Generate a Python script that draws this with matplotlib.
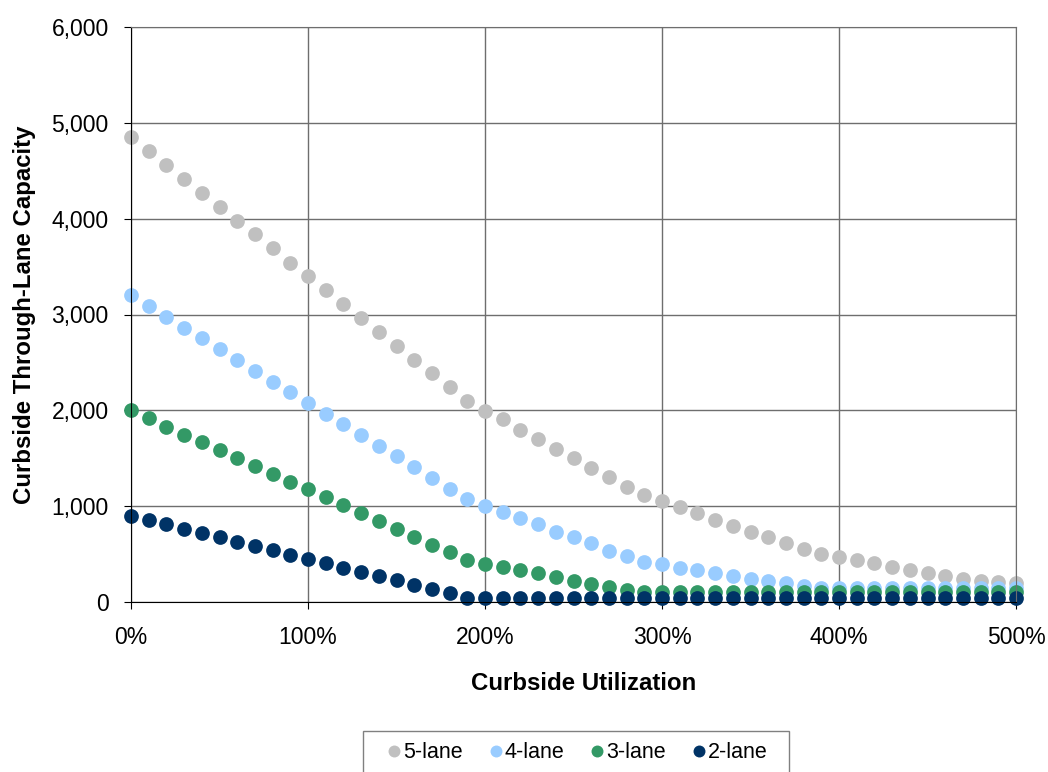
import numpy as np
import matplotlib.pyplot as plt
from matplotlib.patches import Rectangle
from matplotlib.ticker import FuncFormatter, MultipleLocator

plt.rcParams['font.family'] = ['Liberation Sans', 'DejaVu Sans']

# curbside utilization in %
utilization = list(range(0, 501, 10))

lane5 = [4850, 4705, 4560, 4410, 4270, 4120, 3980, 3835, 3690, 3540,
         3400, 3255, 3110, 2965, 2820, 2675, 2530, 2385, 2240, 2095,
         1995, 1905, 1800, 1700, 1600, 1500, 1400, 1300, 1205, 1120,
         1055, 990, 925, 860, 795, 735, 675, 615, 550, 500,
         465, 435, 405, 370, 335, 305, 275, 245, 220, 205,
         200]
lane4 = [3200, 3085, 2970, 2860, 2750, 2635, 2525, 2415, 2300, 2190,
         2075, 1965, 1855, 1745, 1630, 1520, 1405, 1290, 1180, 1075,
         1005, 940, 875, 810, 735, 675, 615, 535, 475, 420,
         395, 360, 330, 300, 270, 245, 220, 195, 170, 150,
         145, 145, 145, 145, 145, 145, 145, 145, 145, 145,
         145]
lane3 = [2000, 1915, 1830, 1745, 1665, 1585, 1500, 1420, 1340, 1255,
         1175, 1095, 1010, 930, 850, 765, 680, 600, 520, 440,
         400, 365, 330, 300, 260, 220, 190, 155, 125, 105,
         100, 100, 100, 100, 100, 100, 100, 100, 100, 100,
         100, 100, 100, 100, 100, 100, 100, 100, 100, 100,
         100]
lane2 = [900, 855, 810, 765, 720, 675, 630, 585, 540, 495,
         450, 405, 360, 315, 270, 225, 180, 135, 90, 45,
         45, 45, 45, 45, 45, 45, 45, 45, 45, 45,
         45, 45, 45, 45, 45, 45, 45, 45, 45, 45,
         45, 45, 45, 45, 45, 45, 45, 45, 45, 45,
         45]

series = [('5-lane', lane5, '#C0C0C0'),
          ('4-lane', lane4, '#99CCFF'),
          ('3-lane', lane3, '#339966'),
          ('2-lane', lane2, '#003366')]

fig = plt.figure(figsize=(10.48, 7.72), dpi=100)
ax = fig.add_axes([131/1048, 1-602/772, 885/1048, 575/772])

for name, vals, col in series:
    ax.plot(utilization, vals, linestyle='none', marker='o', markersize=10.6,
            markeredgewidth=0, color=col, label=name, clip_on=False)

ax.set_xlim(0, 500)
ax.set_ylim(0, 6000)
ax.xaxis.set_major_locator(MultipleLocator(100))
ax.yaxis.set_major_locator(MultipleLocator(1000))
ax.xaxis.set_major_formatter(FuncFormatter(lambda v, p: f'{v:.0f}%'))
ax.yaxis.set_major_formatter(FuncFormatter(lambda v, p: f'{v:,.0f}'))
ax.grid(True, color='#6e6e6e', linewidth=1)
ax.set_axisbelow(True)
for s in ['top', 'right']:
    ax.spines[s].set_color('#6e6e6e')
for s in ['left', 'bottom']:
    ax.spines[s].set_color('black')
ax.tick_params(axis='both', labelsize=16.5, length=5, color='black')
ax.tick_params(axis='x', pad=12)
ax.tick_params(axis='y', pad=11)

ax.set_xlabel('Curbside Utilization', fontsize=17.3, fontweight='bold', labelpad=17)
ax.set_ylabel('Curbside Through-Lane Capacity', fontsize=17.3, fontweight='bold', labelpad=11)
ax.xaxis.label.set_x(0.512)

# legend box (Excel style, runs off the bottom edge)
fig.patches.append(Rectangle((363/1048, -0.05), (789-363)/1048, 0.05+1-731/772,
                             transform=fig.transFigure, facecolor='white',
                             edgecolor='#808080', linewidth=1, zorder=0))
leg = fig.legend(loc='center left', bbox_to_anchor=(387.5/1048, 1-753/772), ncol=4,
                 fontsize=15.5, frameon=False, markerscale=0.81,
                 handlelength=0.6, handletextpad=0.12, columnspacing=1.23,
                 borderpad=0, borderaxespad=0)

fig.savefig('out.png', dpi=100)
